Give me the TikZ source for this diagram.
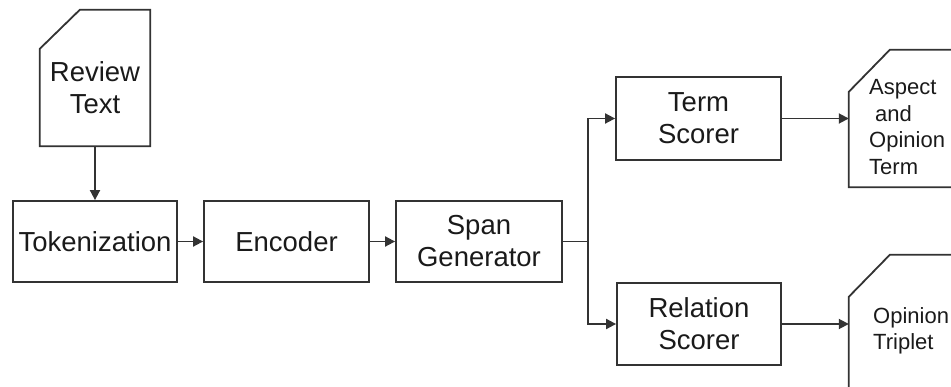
\documentclass[tikz,border=0pt]{standalone}
\usepackage{fontspec}
\setmainfont{Liberation Sans}
\usetikzlibrary{arrows.meta,calc}
\definecolor{ln}{HTML}{333333}
\definecolor{tx}{HTML}{1A1A1A}
\begin{document}
\begin{tikzpicture}[x=1pt,y=-1pt,
  box/.style={draw=ln,line width=1.8pt,rectangle,inner sep=0pt,text=tx,align=center,
    font=\fontsize{27.5}{32}\selectfont},
  docarea/.style={rectangle,inner sep=0pt,draw=none},
  docline/.style={draw=ln,line width=1.8pt,line join=miter},
  doctxt/.style={text=tx,inner sep=0pt,align=left,font=\fontsize{22}{26.5}\selectfont},
  bigtxt/.style={text=tx,inner sep=0pt,align=center,font=\fontsize{27.5}{32}\selectfont},
  arr/.style={draw=ln,line width=1.8pt,-{Triangle[length=10pt,width=10pt]}},
  lnk/.style={draw=ln,line width=1.8pt}]
\useasboundingbox (0,0) rectangle (951,387);

% document shapes
\node[docarea,minimum width=110,minimum height=136] (rt) at (95,78) {};
\draw[docline] ($(rt.north west)+(0,39)$) -- ($(rt.north west)+(40,0)$) -- (rt.north east)
  -- (rt.south east) -- (rt.south west) -- cycle;
\node[bigtxt] (rtl) at (95,88) {Review\\Text};

\node[docarea,minimum width=151,minimum height=137] (asp) at (924.5,118.5) {};
\draw[docline] ($(asp.north west)+(0,42)$) -- ($(asp.north west)+(41,0)$) -- (asp.north east)
  -- (asp.south east) -- (asp.south west) -- cycle;
\node[doctxt,anchor=west] (aspl) at (869,127) {Aspect\\\hspace{6pt}and\\Opinion\\Term};

\node[docarea,minimum width=151,minimum height=150] (opi) at (924.5,330) {};
\draw[docline] ($(opi.north west)+(0,42)$) -- ($(opi.north west)+(41,0)$) -- (opi.north east)
  -- (opi.south east) -- (opi.south west) -- cycle;
\node[doctxt,anchor=west] (opil) at (873,331) {Opinion\\Triplet};

% boxes
\node[box,minimum width=164,minimum height=81] (tok) at (95,241.5) {Tokenization};
\node[box,minimum width=165,minimum height=81] (enc) at (286.5,241.5) {Encoder};
\node[box,minimum width=166,minimum height=81] (span) at (479,241.5) {Span\\Generator};
\node[box,minimum width=165,minimum height=83] (term) at (698.5,118.5) {Term\\Scorer};
\node[box,minimum width=164,minimum height=82] (rel) at (699,324) {Relation\\Scorer};

% connectors
\draw[arr] (rt.south) -- (tok.north);
\draw[arr] (tok.east) -- (enc.west);
\draw[arr] (enc.east) -- (span.west);
\coordinate (br) at (588,241.5);
\draw[lnk] (span.east) -- (br);
\draw[arr] (br) |- (term.west);
\draw[arr] (br) |- (rel.west);
\draw[arr] (term.east) -- (term.east -| asp.west);
\draw[arr] (rel.east) -- (rel.east -| opi.west);
\end{tikzpicture}
\end{document}
